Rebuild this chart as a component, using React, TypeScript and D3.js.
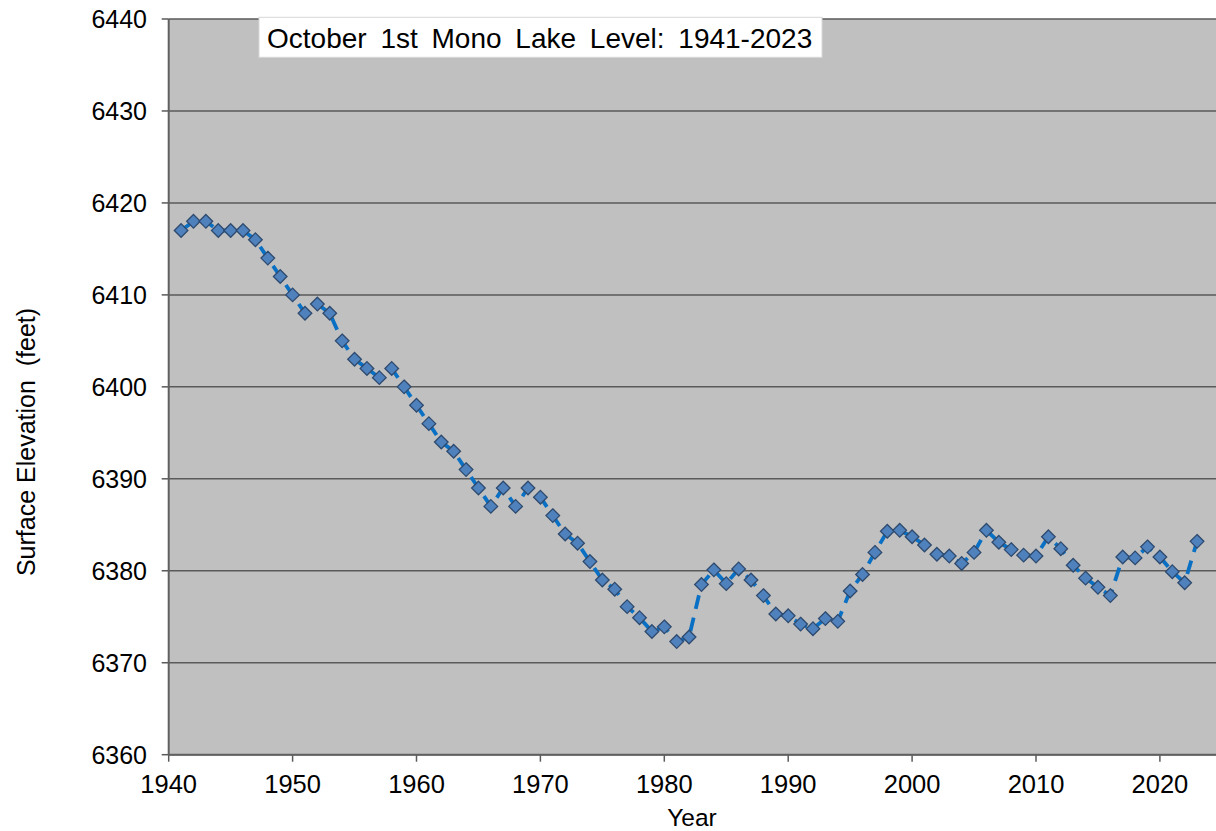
import React from "react";
import * as d3 from "d3";

const years: number[] = d3.range(1941, 2024);
const levels: number[] = [
  6417.0, 6418.0, 6418.0, 6417.0, 6417.0, 6417.0, 6416.0, 6414.0, 6412.0, 6410.0,
  6408.0, 6409.0, 6408.0, 6405.0, 6403.0, 6402.0, 6401.0, 6402.0, 6400.0, 6398.0,
  6396.0, 6394.0, 6393.0, 6391.0, 6389.0, 6387.0, 6389.0, 6387.0, 6389.0, 6388.0,
  6386.0, 6384.0, 6383.0, 6381.0, 6379.0, 6378.0, 6376.1, 6374.9, 6373.4, 6373.9,
  6372.3, 6372.8, 6378.5, 6380.1, 6378.6, 6380.2, 6379.0, 6377.3, 6375.3, 6375.1,
  6374.2, 6373.7, 6374.8, 6374.5, 6377.8, 6379.6, 6382.0, 6384.3, 6384.4, 6383.7,
  6382.8, 6381.8, 6381.6, 6380.8, 6382.0, 6384.4, 6383.1, 6382.3, 6381.7, 6381.6,
  6383.7, 6382.4, 6380.6, 6379.2, 6378.2, 6377.3, 6381.5, 6381.4, 6382.6, 6381.5,
  6379.9, 6378.7, 6383.2,
];
const xTicks: number[] = [1940, 1950, 1960, 1970, 1980, 1990, 2000, 2010, 2020];
const yTicks: number[] = [6360, 6370, 6380, 6390, 6400, 6410, 6420, 6430, 6440];
const title = "October 1st Mono Lake Level: 1941-2023";
const xTitle = "Year";
const yTitle = "Surface Elevation  (feet)";

const W = 1216;
const H = 831;
const left = 168.7;
const top = 19;
const bottom = 754.7;
const pxPerYear = 12.39;

export default function App() {
  const x = d3.scaleLinear().domain([1940, 2025]).range([left, left + 85 * pxPerYear]);
  const y = d3.scaleLinear().domain([6360, 6440]).range([bottom, top]);
  const data = years.map((yr, i) => ({ yr, v: levels[i] }));
  const line = d3
    .line<{ yr: number; v: number }>()
    .x((d) => x(d.yr))
    .y((d) => y(d.v));
  const right = x(2025);
  const font = "Liberation Sans, Arial, sans-serif";
  const r = 6.8;
  return (
    <svg
      width={W}
      height={H}
      style={{ position: "absolute", left: 0, top: 0, background: "#fff" }}
      fontFamily={font}
    >
      <rect x={left} y={top} width={right - left} height={bottom - top} fill="#C0C0C0" />
      {yTicks.map((t) => (
        <line key={"g" + t} x1={left} x2={right} y1={y(t)} y2={y(t)} stroke="#5a5a5a" strokeWidth={1.5} />
      ))}
      {yTicks.map((t) => (
        <g key={"yt" + t}>
          <line x1={left - 7} x2={left} y1={y(t)} y2={y(t)} stroke="#5a5a5a" strokeWidth={1.5} />
          <text x={147} y={y(t)} dy="0.36em" textAnchor="end" fontSize={25} fill="#000">
            {t}
          </text>
        </g>
      ))}
      {xTicks.map((t) => (
        <g key={"xt" + t}>
          <line x1={x(t)} x2={x(t)} y1={bottom} y2={bottom + 7} stroke="#5a5a5a" strokeWidth={1.5} />
          <text x={x(t)} y={793} textAnchor="middle" fontSize={25.5} fill="#000">
            {t}
          </text>
        </g>
      ))}
      <line x1={left} x2={left} y1={top} y2={bottom} stroke="#606060" strokeWidth={2} />
      <line x1={left} x2={right} y1={bottom} y2={bottom} stroke="#606060" strokeWidth={2} />
      <path
        d={line(data) || ""}
        fill="none"
        stroke="#0A70C4"
        strokeWidth={3.8}
        strokeDasharray="14 9"
      />
      {data.map((d) => (
        <path
          key={d.yr}
          transform={`translate(${x(d.yr)},${y(d.v)})`}
          d={`M0,${-r}L${r},0L0,${r}L${-r},0Z`}
          fill="#4F81BD"
          stroke="#2E4A6E"
          strokeWidth={1.3}
        />
      ))}
      <rect x={259} y={17.3} width={563} height={40} fill="#fff" stroke="#d8d8d8" strokeWidth={1} />
      <text x={267} y={47.5} fontSize={28} wordSpacing={6} fill="#000">
        {title}
      </text>
      <text x={692} y={826} textAnchor="middle" fontSize={24.5} fill="#000">
        {xTitle}
      </text>
      <text
        transform={`translate(35,442) rotate(-90)`}
        textAnchor="middle"
        fontSize={25}
        fill="#000"
        style={{ whiteSpace: "pre" }}
      >
        {yTitle}
      </text>
    </svg>
  );
}
